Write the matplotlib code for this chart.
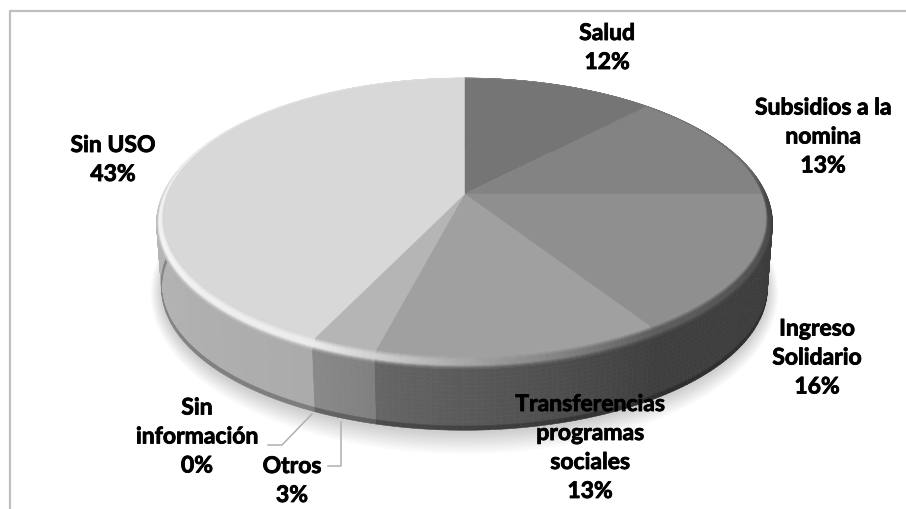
import numpy as np
import matplotlib
matplotlib.use("Agg")
import matplotlib.pyplot as plt
import matplotlib.patheffects as pe
from matplotlib.collections import PolyCollection

categories = ["Salud", "Subsidios a la\nnomina", "Ingreso\nSolidario",
              "Transferencias\nprogramas\nsociales", "Otros", "Sin\ninformación", "Sin USO"]
values = [12, 13, 16, 13, 3, 0, 43]

top_shades = [0.459, 0.514, 0.561, 0.627, 0.71, 0.75, 0.847]
side_start = [0.30, 0.25, 0.235, 0.245, 0.50, 0.60, 0.67]
side_end = [0.25, 0.235, 0.245, 0.40, 0.54, 0.62, 0.78]

label_xy = [(607, 49), (823, 138), (817, 359), (590, 449), (292, 482), (197, 438), (113, 161)]

CX = 464.5
K = 0.17
RING_TOP = dict(R=297.0, S=134.5, A=195.0)
RING_OUT = dict(R=303.5, S=141.3, A=199.8)
RING_BOT = dict(R=298.5, S=138.0, A=265.0)

RIM_ANG = [0, 43, 75, 92, 147, 175, 192, 205, 250, 285, 330, 360]
RIM_VAL = [0.50, 0.47, 0.44, 0.28, 0.36, 0.60, 0.80, 0.93, 0.96, 0.93, 0.88, 0.85]


def project(theta, ring):
    x, y = np.sin(theta), np.cos(theta)
    den = 1 + K * y
    return CX + ring["R"] * x / den, ring["A"] - ring["S"] * y / den


def lerp_ring(a, b, t):
    return {k: a[k] + (b[k] - a[k]) * t for k in a}


def grey(v):
    v = float(np.clip(v, 0, 1))
    return (v, v, v, 1.0)


plt.rcParams["font.family"] = ["Lato", "DejaVu Sans"]
fig = plt.figure(figsize=(9.06, 5.10), dpi=100, facecolor="white")
ax = fig.add_axes([0, 0, 1, 1])
ax.set_xlim(0, 906)
ax.set_ylim(510, 0)
ax.axis("off")

# chart frame
ax.plot([9.5, 9.5, 906], [510, 11.5, 11.5], color="#bfbfbf", lw=1.6, zorder=1)

# soft shadow under the pie
full = np.linspace(0, 2 * np.pi, 361)
for grow in np.linspace(18, 1, 12):
    ring = dict(R=RING_BOT["R"] + grow * 0.6, S=RING_BOT["S"] + grow, A=RING_BOT["A"] + 2)
    px, py = project(full, ring)
    ax.fill(px, py, color="black", alpha=0.016, lw=0, zorder=2)

edges = np.cumsum([0] + values) / sum(values) * 2 * np.pi
polys, cols = [], []
v_steps = np.linspace(0, 1, 15)
t_steps = np.linspace(0, 1, 13)
for i in range(len(values)):
    a0, a1 = edges[i], edges[i + 1]
    if a1 <= a0:
        continue
    n = max(2, int(np.degrees(a1 - a0)))
    th = np.linspace(a0, a1, n + 1)
    for j in range(n):
        frac = (j + 0.5) / n
        base = side_start[i] + (side_end[i] - side_start[i]) * frac
        ang = np.array([th[j], th[j + 1]])
        for u0, u1 in zip(v_steps[:-1], v_steps[1:]):
            x0, y0 = project(ang, lerp_ring(RING_OUT, RING_BOT, u0))
            x1, y1 = project(ang, lerp_ring(RING_OUT, RING_BOT, u1))
            um = (u0 + u1) / 2
            shade = base * (1 - 0.42 * max(0, um - 0.9) / 0.1)
            polys.append(np.column_stack([np.r_[x0, x1[::-1]], np.r_[y0, y1[::-1]]]))
            cols.append(grey(shade))
ax.add_collection(PolyCollection(polys, facecolors=cols, edgecolors=cols, linewidths=0.4, zorder=3))

polys, cols = [], []
for i in range(len(values)):
    a0, a1 = edges[i], edges[i + 1]
    if a1 <= a0:
        continue
    n = max(2, int(np.degrees(a1 - a0)))
    th = np.linspace(a0, a1, n + 1)
    for j in range(n):
        frac = (j + 0.5) / n
        base = side_start[i] + (side_end[i] - side_start[i]) * frac
        ang = np.array([th[j], th[j + 1]])
        deg = np.degrees(th[j])
        rim = np.interp(deg, RIM_ANG, RIM_VAL)
        # at the far side of the disc the rim fades out instead of meeting a wall
        front = np.clip((0.25 - np.cos(th[j])) / 0.4, 0, 1)
        end = rim + (base - rim) * front
        for t0, t1 in zip(t_steps[:-1], t_steps[1:]):
            x0, y0 = project(ang, lerp_ring(RING_TOP, RING_OUT, t0))
            x1, y1 = project(ang, lerp_ring(RING_TOP, RING_OUT, t1))
            tm = (t0 + t1) / 2
            shade = np.interp(tm, [0, 0.35, 0.7, 1], [top_shades[i], rim, rim, end])
            polys.append(np.column_stack([np.r_[x0, x1[::-1]], np.r_[y0, y1[::-1]]]))
            cols.append(grey(shade))
ax.add_collection(PolyCollection(polys, facecolors=cols, edgecolors=cols, linewidths=0.4, zorder=4))

# top face
for i in range(len(values)):
    a0, a1 = edges[i], edges[i + 1]
    if a1 <= a0:
        continue
    th = np.linspace(a0, a1, max(2, int(np.degrees(a1 - a0)) * 2))
    px, py = project(th, RING_TOP)
    ax.fill(np.r_[CX, px], np.r_[RING_TOP["A"], py], facecolor=grey(top_shades[i]),
            edgecolor=grey(top_shades[i]), lw=0.3, zorder=5)

# leader lines
ax.plot([268, 282, 312], [446, 446, 415], color="#b0b0b0", lw=1.1, zorder=6)
ax.plot([328, 341, 341], [467, 467, 423], color="#b0b0b0", lw=1.1, zorder=6)

# labels
for name, val, (lx, ly) in zip(categories, values, label_xy):
    ax.text(lx, ly, f"{name}\n{val}%", ha="center", va="center", fontsize=16.5,
            fontweight="bold", color="black", linespacing=1.47, zorder=7,
            path_effects=[pe.withStroke(linewidth=0.6, foreground="black")])

fig.savefig("out.png", dpi=100, facecolor="white")
